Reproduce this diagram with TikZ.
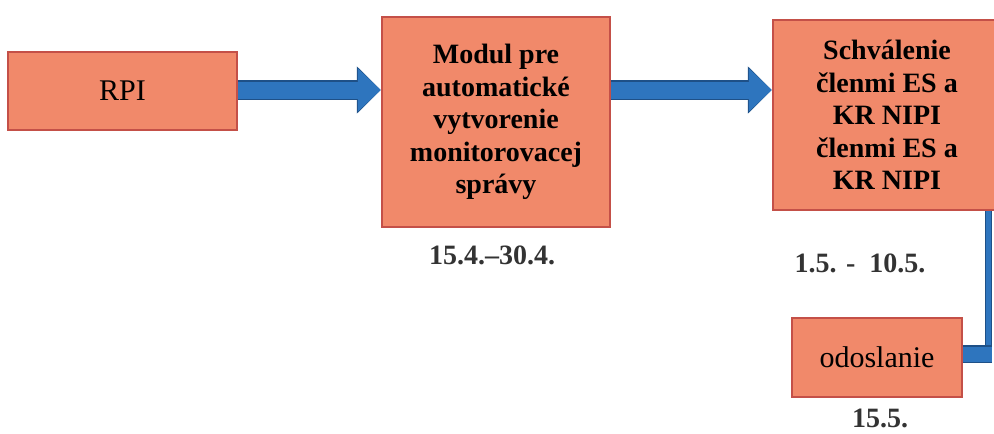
\documentclass[tikz,border=0pt]{standalone}
\usepackage{fontspec}
\setmainfont{Liberation Serif}
\usetikzlibrary{arrows.meta}
\definecolor{boxfill}{RGB}{241,137,106}
\definecolor{boxedge}{RGB}{196,80,72}
\definecolor{arrblue}{RGB}{46,117,190}
\definecolor{arredge}{RGB}{30,80,135}

\begin{document}
\begin{tikzpicture}[
  x=1pt, y=-1pt,
  box/.style={draw=boxedge, fill=boxfill, line width=2.5pt, align=center, inner sep=2pt,
    font=\fontsize{28}{32.5}\selectfont\bfseries},
  plainbox/.style={box, font=\fontsize{30}{34}\selectfont},
  arr/.style={draw=arrblue, line width=17pt, -{Triangle[length=23pt,width=42pt]},
    preaction={draw=arredge, line width=20pt, -{Triangle[length=24pt,width=46pt]}}},
  link/.style={draw=arrblue, line width=5pt, preaction={draw=arredge, line width=7pt}},
  linkthick/.style={draw=arrblue, line width=15pt, preaction={draw=arredge, line width=18pt}},
  date/.style={font=\fontsize{28}{32}\selectfont\bfseries, text=black!80}
]
\clip (0,0) rectangle (994,434);

% connectors first, boxes on top
\coordinate (bend) at (988.5,354);
\coordinate (midline) at (0,90);

% boxes
\node[plainbox, minimum width=229pt, minimum height=78pt] (rpi) at (122.5,91) {RPI};
\node[box, minimum width=228pt, minimum height=210pt] (modul) at (496,122)
  {Modul pre\\automatické\\vytvorenie\\monitorovacej\\správy};
\node[box, minimum width=228pt, minimum height=190pt] (schval) at (887,115)
  {Schválenie\\členmi ES a\\KR NIPI\\členmi ES a\\KR NIPI};

\draw[arr] (rpi.east |- midline) -- (modul.west |- midline);
\draw[arr] (modul.east |- midline) -- (schval.west |- midline);
\draw[link] (schval.south -| bend) -- (bend);
\draw[linkthick] ([xshift=3.5pt]bend) -- ([xshift=-1pt]bend -| 962,0);

\node[plainbox, minimum width=170pt, minimum height=79pt] (odosl) at (877,357.5) {odoslanie};

% dates
\node[date] (d1) at (492,255) {15.4.–30.4.};
\node[date] (d2) at (860,263) {1.5. -\ \ 10.5.};
\node[date] (d3) at (880,418) {15.5.};
\end{tikzpicture}
\end{document}
